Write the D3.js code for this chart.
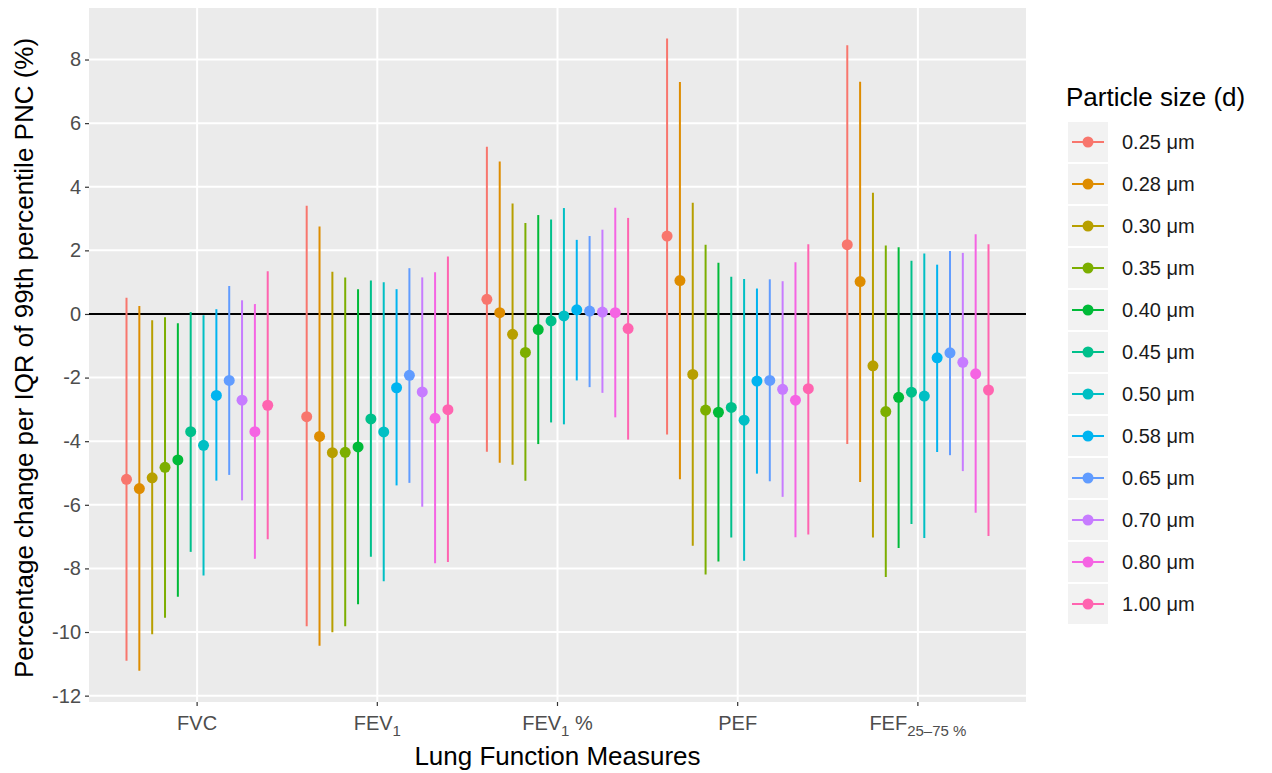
<!DOCTYPE html>
<html>
<head>
<meta charset="utf-8">
<script src="https://cdn.jsdelivr.net/npm/d3@7"></script>
<style>
  body { margin: 0; background: #fff; }
  svg text { font-family: "Liberation Sans", Arial, sans-serif; }
</style>
</head>
<body>
<svg id="vis"></svg>
<script>
// measures on the x axis
const measures = ["FVC", "FEV1", "FEV1%", "PEF", "FEF"];

// particle sizes (legend order)
const sizes = ["0.25", "0.28", "0.30", "0.35", "0.40", "0.45",
               "0.50", "0.58", "0.65", "0.70", "0.80", "1.00"];

// point estimates, one row per measure, one column per size
const estimate = [
  [-5.20, -5.49, -5.15, -4.82, -4.59, -3.70, -4.13, -2.56, -2.09, -2.71, -3.70, -2.87],
  [-3.23, -3.85, -4.36, -4.35, -4.18, -3.30, -3.71, -2.32, -1.93, -2.45, -3.28, -3.01],
  [ 0.46,  0.04, -0.64, -1.21, -0.49, -0.22, -0.06,  0.13,  0.09,  0.06,  0.04, -0.46],
  [ 2.45,  1.05, -1.90, -3.02, -3.09, -2.94, -3.34, -2.11, -2.09, -2.37, -2.71, -2.35],
  [ 2.18,  1.02, -1.63, -3.07, -2.62, -2.46, -2.58, -1.38, -1.22, -1.52, -1.88, -2.39]
];

// lower confidence limits
const lower = [
  [-10.90, -11.22, -10.07, -9.55, -8.89, -7.48, -8.22, -5.24, -5.06, -5.86, -7.70, -7.08],
  [ -9.82, -10.43, -10.01, -9.82, -9.13, -7.63, -8.40, -5.39, -5.31, -6.06, -7.84, -7.80],
  [ -4.33,  -4.68,  -4.74, -5.24, -4.09, -3.41, -3.47, -2.09, -2.30, -2.48, -3.25, -3.95],
  [ -3.79,  -5.20,  -7.29, -8.19, -7.78, -7.03, -7.76, -5.02, -5.26, -5.75, -7.02, -6.93],
  [ -4.09,  -5.28,  -7.03, -8.27, -7.36, -6.60, -7.04, -4.34, -4.44, -4.94, -6.25, -6.98]
];

// upper confidence limits
const upper = [
  [0.51, 0.25, -0.20, -0.10, -0.29, 0.06, -0.04, 0.15, 0.88, 0.43, 0.31, 1.34],
  [3.40, 2.75,  1.33,  1.15,  0.78, 1.05,  1.00, 0.78, 1.44, 1.15, 1.31, 1.81],
  [5.26, 4.79,  3.47,  2.86,  3.11, 2.97,  3.33, 2.33, 2.45, 2.65, 3.34, 3.02],
  [8.66, 7.29,  3.50,  2.18,  1.61, 1.17,  1.10, 0.80, 1.09, 1.03, 1.63, 2.19],
  [8.45, 7.30,  3.81,  2.15,  2.10, 1.67,  1.90, 1.55, 1.98, 1.92, 2.51, 2.19]
];

const yTicks = [8, 6, 4, 2, 0, -2, -4, -6, -8, -10, -12];

const colors = ["#F8766D", "#DE8C00", "#B79F00", "#7CAE00", "#00BA38", "#00C08B",
                "#00BFC4", "#00B4F0", "#619CFF", "#C77CFF", "#F564E3", "#FF64B0"];

let config = { svg: {}, plot: {}, legend: {} };

config.svg.width = 1272;
config.svg.height = 773;

config.plot.left = 89;
config.plot.right = 1026;
config.plot.top = 8;
config.plot.bottom = 702;

config.legend.x = 1068;
config.legend.y = 122;
config.legend.key = 40;
config.legend.step = 42;

const svg = d3.select("svg#vis")
  .attr("width", config.svg.width)
  .attr("height", config.svg.height);

let scale = {};

scale.x = d3.scaleBand()
  .domain(measures)
  .range([config.plot.left, config.plot.right])
  .paddingInner(0)
  .paddingOuter(0.1);

const dodgeWidth = scale.x.bandwidth() * 0.855;
scale.dodge = d3.scaleBand()
  .domain(sizes)
  .range([-dodgeWidth / 2, dodgeWidth / 2]);

scale.y = d3.scaleLinear()
  .domain([-12.2, 9.62])
  .range([config.plot.bottom, config.plot.top]);

scale.color = d3.scaleOrdinal().domain(sizes).range(colors);

// panel
svg.append("rect")
  .attr("x", config.plot.left)
  .attr("y", config.plot.top)
  .attr("width", config.plot.right - config.plot.left)
  .attr("height", config.plot.bottom - config.plot.top)
  .attr("fill", "#EBEBEB");

let grid = svg.append("g").attr("id", "grid");

grid.selectAll("line.h")
  .data(yTicks)
  .join("line")
  .attr("class", "h")
  .attr("x1", config.plot.left)
  .attr("x2", config.plot.right)
  .attr("y1", d => scale.y(d))
  .attr("y2", d => scale.y(d))
  .attr("stroke", "#fff")
  .attr("stroke-width", 2);

grid.selectAll("line.v")
  .data(measures)
  .join("line")
  .attr("class", "v")
  .attr("x1", d => scale.x(d) + scale.x.bandwidth() / 2)
  .attr("x2", d => scale.x(d) + scale.x.bandwidth() / 2)
  .attr("y1", config.plot.top)
  .attr("y2", config.plot.bottom)
  .attr("stroke", "#fff")
  .attr("stroke-width", 2);

// reference line at zero
svg.append("line")
  .attr("x1", config.plot.left)
  .attr("x2", config.plot.right)
  .attr("y1", scale.y(0))
  .attr("y2", scale.y(0))
  .attr("stroke", "#000")
  .attr("stroke-width", 2);

// flatten to rows
let rows = [];
measures.forEach((m, i) => {
  sizes.forEach((s, j) => {
    rows.push({ measure: m, size: s, est: estimate[i][j], lo: lower[i][j], hi: upper[i][j] });
  });
});

const xPos = d => scale.x(d.measure) + scale.x.bandwidth() / 2 +
  scale.dodge(d.size) + scale.dodge.bandwidth() / 2;

let marks = svg.append("g").attr("id", "marks");

marks.selectAll("line")
  .data(rows)
  .join("line")
  .attr("x1", xPos)
  .attr("x2", xPos)
  .attr("y1", d => scale.y(d.lo))
  .attr("y2", d => scale.y(d.hi))
  .attr("stroke", d => scale.color(d.size))
  .attr("stroke-width", 2);

marks.selectAll("circle")
  .data(rows)
  .join("circle")
  .attr("cx", xPos)
  .attr("cy", d => scale.y(d.est))
  .attr("r", 5.5)
  .attr("fill", d => scale.color(d.size));

// axes
let axisY = d3.axisLeft(scale.y)
  .tickValues(yTicks)
  .tickSize(4)
  .tickPadding(4)
  .tickFormat(d => d < 0 ? "-" + Math.abs(d) : String(d));

let gy = svg.append("g")
  .attr("transform", translate(config.plot.left, 0))
  .call(axisY);
gy.select(".domain").remove();
gy.selectAll(".tick line").attr("stroke", "#333").attr("stroke-width", 1.2);
gy.selectAll(".tick text")
  .attr("font-size", "20px")
  .attr("fill", "#4D4D4D");

let axisX = d3.axisBottom(scale.x)
  .tickSize(4)
  .tickFormat("");

let gx = svg.append("g")
  .attr("transform", translate(0, config.plot.bottom))
  .call(axisX);
gx.select(".domain").remove();
gx.selectAll(".tick line").attr("stroke", "#333").attr("stroke-width", 1.2);

// x tick labels with subscripts
const labelParts = {
  "FVC": [["FVC", false]],
  "FEV1": [["FEV", false], ["1", true]],
  "FEV1%": [["FEV", false], ["1", true], [" %", false]],
  "PEF": [["PEF", false]],
  "FEF": [["FEF", false], ["25\u201375 %", true]]
};

measures.forEach(m => {
  let t = svg.append("text")
    .attr("x", scale.x(m) + scale.x.bandwidth() / 2)
    .attr("y", 730)
    .attr("text-anchor", "middle")
    .attr("font-size", "20px")
    .attr("fill", "#4D4D4D");
  let sub = false;
  labelParts[m].forEach(([txt, isSub]) => {
    let span = t.append("tspan").text(txt);
    if (isSub && !sub) span.attr("dy", 6);
    if (!isSub && sub) span.attr("dy", -6);
    if (isSub) span.attr("font-size", "15px");
    sub = isSub;
  });
});

// axis titles
svg.append("text")
  .text("Lung Function Measures")
  .attr("x", (config.plot.left + config.plot.right) / 2)
  .attr("y", 765)
  .attr("text-anchor", "middle")
  .attr("font-size", "26px")
  .attr("fill", "#000");

svg.append("text")
  .text("Percentage change per IQR of 99th percentile PNC (%)")
  .attr("transform", "translate(33,358) rotate(-90)")
  .attr("text-anchor", "middle")
  .attr("font-size", "26px")
  .attr("fill", "#000");

drawLegend();

function drawLegend() {
  let legend = svg.append("g")
    .attr("id", "legend")
    .attr("transform", translate(config.legend.x, config.legend.y));

  legend.append("text")
    .text("Particle size (d)")
    .attr("x", -2)
    .attr("y", -16)
    .attr("font-size", "26px")
    .attr("fill", "#000");

  let items = legend.selectAll("g.item")
    .data(sizes)
    .join("g")
    .attr("class", "item")
    .attr("transform", (d, i) => translate(0, i * config.legend.step));

  items.append("rect")
    .attr("width", config.legend.key)
    .attr("height", config.legend.key)
    .attr("fill", "#F2F2F2");

  items.append("line")
    .attr("x1", 4)
    .attr("x2", config.legend.key - 4)
    .attr("y1", config.legend.key / 2)
    .attr("y2", config.legend.key / 2)
    .attr("stroke", d => scale.color(d))
    .attr("stroke-width", 2);

  items.append("circle")
    .attr("cx", config.legend.key / 2)
    .attr("cy", config.legend.key / 2)
    .attr("r", 5.5)
    .attr("fill", d => scale.color(d));

  items.append("text")
    .text(d => d + " \u03BCm")
    .attr("x", config.legend.key + 14)
    .attr("y", config.legend.key / 2 + 7)
    .attr("font-size", "20px")
    .attr("fill", "#1A1A1A");
}

function translate(x, y) {
  return "translate(" + x + "," + y + ")";
}
</script>
</body>
</html>
